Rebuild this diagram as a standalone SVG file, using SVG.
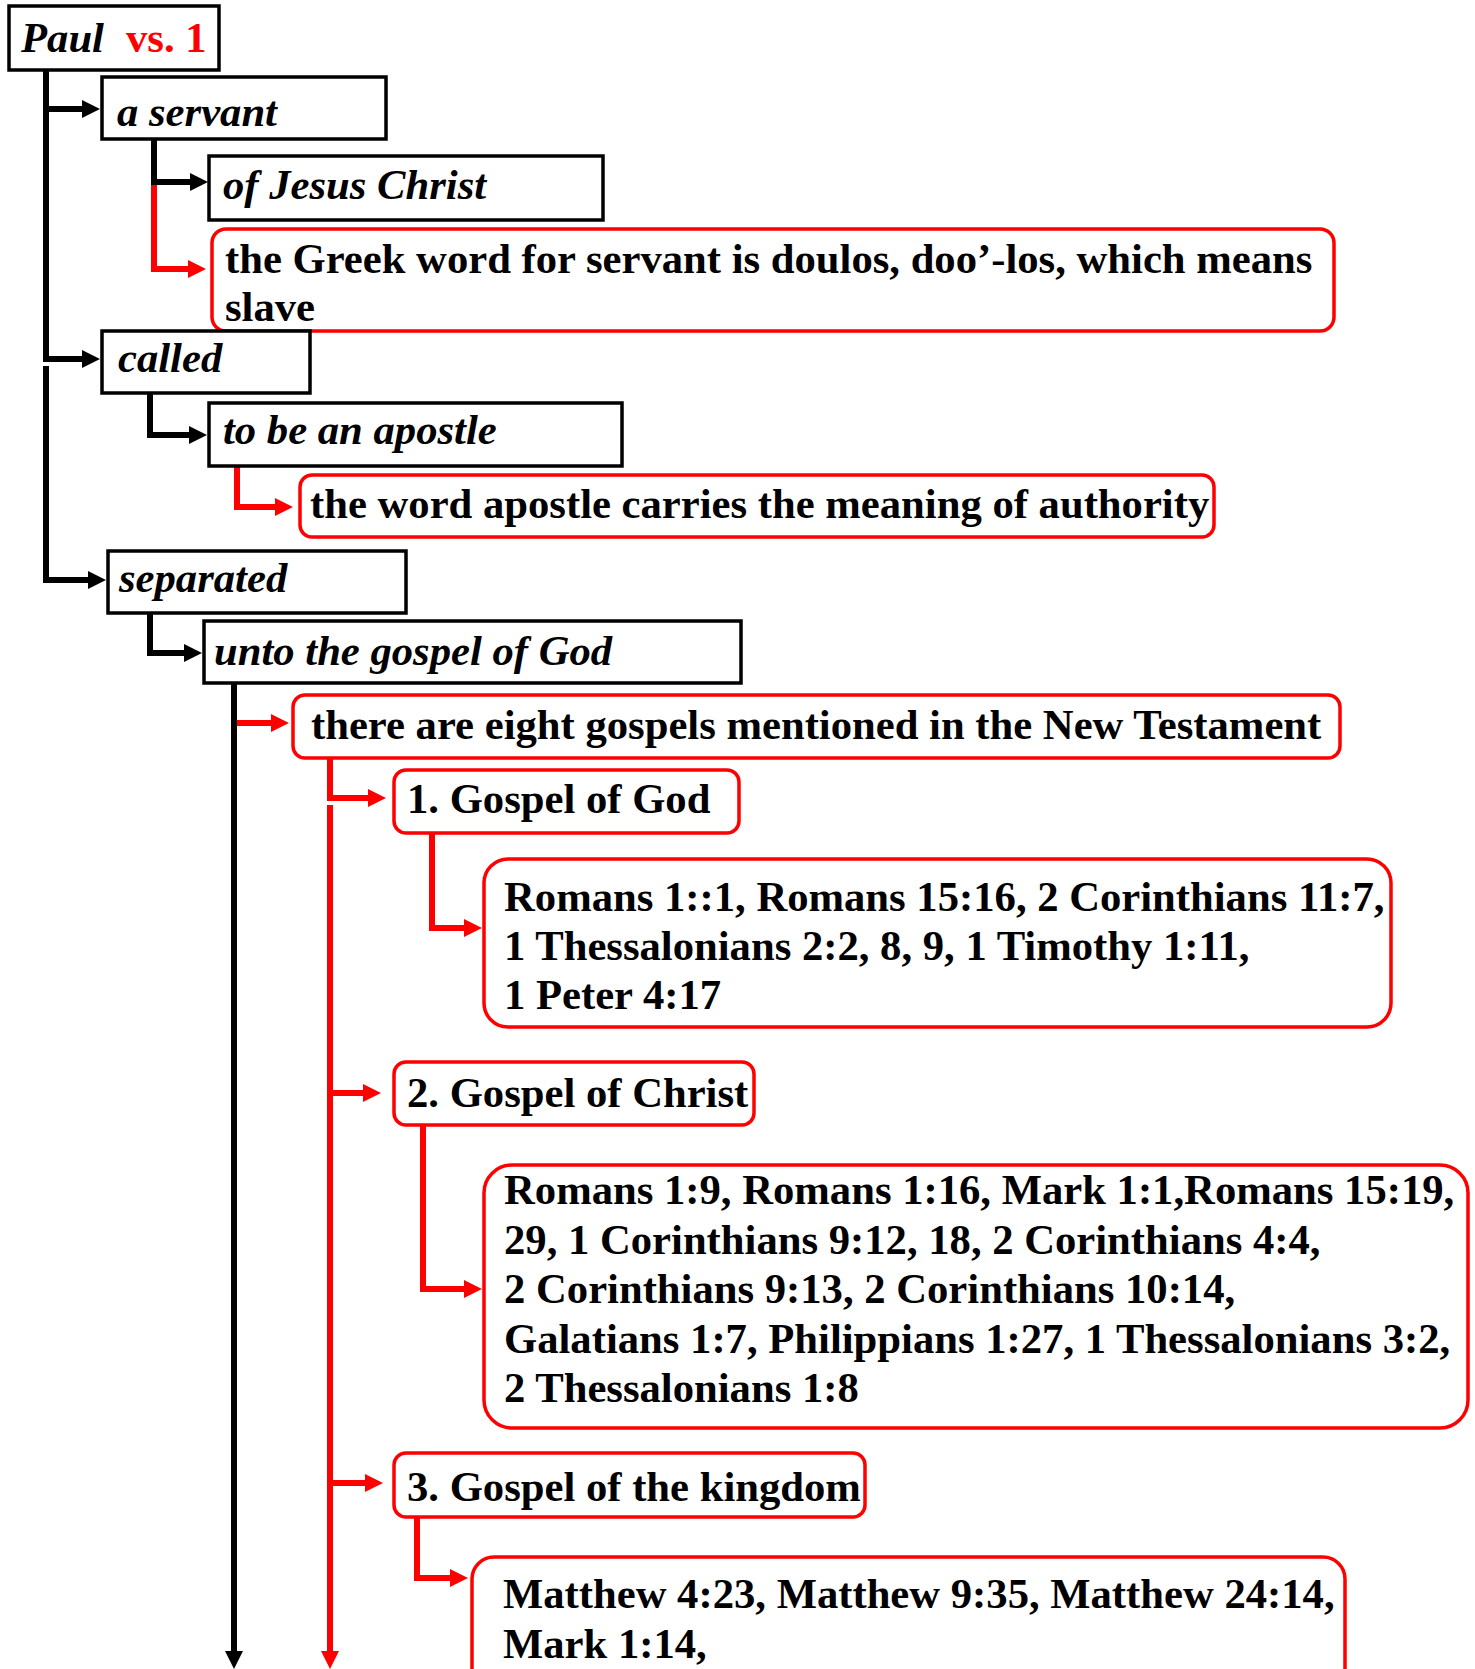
<svg xmlns="http://www.w3.org/2000/svg" width="1475" height="1669" viewBox="0 0 1475 1669">
<style>
.bb{fill:#fff;stroke:#000;stroke-width:3.5}
.rb{fill:#fff;stroke:#f00;stroke-width:3.5}
.t{font-family:"Liberation Serif","Times New Roman",serif;font-weight:bold;font-size:42.67px;fill:#000}
.i{font-style:italic}
.red{fill:#f00}
.ck{fill:none;stroke:#000;stroke-width:6}
.cr{fill:none;stroke:#f00;stroke-width:6}
</style>
<defs>
<marker id="ak" markerUnits="userSpaceOnUse" markerWidth="18" markerHeight="18" refX="8" refY="9" orient="auto"><path d="M0,0 L18,9 L0,18 Z" fill="#000"/></marker>
<marker id="ar" markerUnits="userSpaceOnUse" markerWidth="18" markerHeight="18" refX="8" refY="9" orient="auto"><path d="M0,0 L18,9 L0,18 Z" fill="#f00"/></marker>
</defs>
<rect width="1475" height="1669" fill="#fff"/>
<g id="connectors">
<path class="ck" d="M46,70 V359 H90" marker-end="url(#ak)"/>
<path class="ck" d="M46,109 H90" marker-end="url(#ak)"/>
<path class="ck" d="M46,366 V580 H96" marker-end="url(#ak)"/>
<path class="cr" d="M154,182 V269 H196" marker-end="url(#ar)"/>
<path class="ck" d="M154,139 V182 H198" marker-end="url(#ak)"/>
<path class="ck" d="M150,393 V435 H197" marker-end="url(#ak)"/>
<path class="cr" d="M237,466 V507 H283" marker-end="url(#ar)"/>
<path class="ck" d="M150,613 V653 H192" marker-end="url(#ak)"/>
<path class="ck" d="M234,683 V1659" marker-end="url(#ak)"/>
<path class="cr" d="M237,723 H279" marker-end="url(#ar)"/>
<path class="cr" d="M330,758 V798 H376" marker-end="url(#ar)"/>
<path class="cr" d="M330,805 V1659" marker-end="url(#ar)"/>
<path class="cr" d="M330,1093 H371" marker-end="url(#ar)"/>
<path class="cr" d="M330,1483 H373" marker-end="url(#ar)"/>
<path class="cr" d="M432,833 V928 H472" marker-end="url(#ar)"/>
<path class="cr" d="M423,1125 V1289 H472" marker-end="url(#ar)"/>
<path class="cr" d="M417,1517 V1578 H458" marker-end="url(#ar)"/>
</g>
<g id="paul"><rect class="bb" x="9" y="6" width="210" height="64"/><text class="t" y="52"><tspan class="i" x="21">Paul</tspan><tspan class="red" x="126">vs. 1</tspan></text></g>
<g id="servant"><rect class="bb" x="102" y="77" width="284" height="62"/><text class="t i" x="117" y="126">a servant</text></g>
<g id="jesus"><rect class="bb" x="209" y="156" width="394" height="64"/><text class="t i" x="223" y="199">of Jesus Christ</text></g>
<g id="greek"><rect class="rb" x="212" y="229" width="1122" height="102" rx="14"/><text class="t" x="225" y="273">the Greek word for servant is doulos, doo’-los, which means</text><text class="t" x="225" y="321">slave</text></g>
<g id="called"><rect class="bb" x="102" y="331" width="208" height="62"/><text class="t i" x="118" y="372">called</text></g>
<g id="apostle"><rect class="bb" x="209" y="403" width="413" height="63"/><text class="t i" x="223" y="444">to be an apostle</text></g>
<g id="authority"><rect class="rb" x="300" y="475" width="914" height="62" rx="12"/><text class="t" x="310" y="518">the word apostle carries the meaning of authority</text></g>
<g id="separated"><rect class="bb" x="108" y="551" width="298" height="62"/><text class="t i" x="119" y="592">separated</text></g>
<g id="unto"><rect class="bb" x="204" y="621" width="537" height="62"/><text class="t i" x="214" y="665">unto the gospel of God</text></g>
<g id="eight"><rect class="rb" x="293" y="695" width="1047" height="63" rx="12"/><text class="t" x="311" y="739">there are eight gospels mentioned in the New Testament</text></g>
<g id="g1"><rect class="rb" x="394" y="770" width="345" height="63" rx="12"/><text class="t" x="407" y="813">1. Gospel of God</text></g>
<g id="refs1"><rect class="rb" x="484" y="859" width="907" height="168" rx="24"/><text class="t" x="504" y="911">Romans 1::1, Romans 15:16, 2 Corinthians 11:7,</text><text class="t" x="504" y="960">1 Thessalonians 2:2, 8, 9, 1 Timothy 1:11,</text><text class="t" x="504" y="1009">1 Peter 4:17</text></g>
<g id="g2"><rect class="rb" x="394" y="1062" width="360" height="63" rx="12"/><text class="t" x="407" y="1107">2. Gospel of Christ</text></g>
<g id="refs2"><rect class="rb" x="484" y="1165" width="984" height="263" rx="28"/><text class="t" x="504" y="1204">Romans 1:9, Romans 1:16, Mark 1:1,Romans 15:19,</text><text class="t" x="504" y="1254">29, 1 Corinthians 9:12, 18, 2 Corinthians 4:4,</text><text class="t" x="504" y="1303">2 Corinthians 9:13, 2 Corinthians 10:14,</text><text class="t" x="504" y="1353">Galatians 1:7, Philippians 1:27, 1 Thessalonians 3:2,</text><text class="t" x="504" y="1402">2 Thessalonians 1:8</text></g>
<g id="g3"><rect class="rb" x="394" y="1453" width="471" height="64" rx="12"/><text class="t" x="407" y="1501">3. Gospel of the kingdom</text></g>
<g id="refs3"><rect class="rb" x="472" y="1557" width="873" height="160" rx="22"/><text class="t" x="503" y="1608">Matthew 4:23, Matthew 9:35, Matthew 24:14,</text><text class="t" x="503" y="1658">Mark 1:14,</text></g>
</svg>
